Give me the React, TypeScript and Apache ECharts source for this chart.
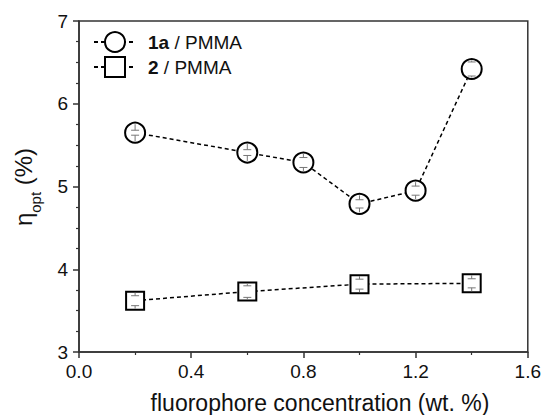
import React, { useEffect, useRef } from "react";
import * as echarts from "echarts";

const xValues1 = [0.2, 0.6, 0.8, 1.0, 1.2, 1.4];
const series1a = [5.65, 5.41, 5.29, 4.79, 4.95, 6.42];
const err1a = [0.03, 0.035, 0.06, 0.05, 0.055, 0.085];

const xValues2 = [0.2, 0.6, 1.0, 1.4];
const series2 = [3.62, 3.73, 3.82, 3.83];
const err2 = [0.06, 0.07, 0.06, 0.055];

const legendNames = ["1a / PMMA", "2 / PMMA"];
const xTitle = "fluorophore concentration (wt. %)";

const FONT = "'Liberation Sans', Arial, Helvetica, sans-serif";
const AXIS_COLOR = "#333";
const TEXT_COLOR = "#111";

function errRender(innerHalf: number) {
  return (params: any, api: any) => {
    const x = api.value(0);
    const y = api.value(1);
    const e = api.value(2);
    const c = api.coord([x, y]);
    const t = api.coord([x, y + e]);
    const b = api.coord([x, y - e]);
    const style = { stroke: "#777", lineWidth: 1 };
    const children: any[] = [
      { type: "line", shape: { x1: c[0] - 4, y1: t[1], x2: c[0] + 4, y2: t[1] }, style },
      { type: "line", shape: { x1: c[0] - 4, y1: b[1], x2: c[0] + 4, y2: b[1] }, style },
    ];
    if (t[1] > c[1] - innerHalf) {
      children.push({ type: "line", shape: { x1: c[0], y1: t[1], x2: c[0], y2: c[1] - innerHalf }, style });
    }
    if (b[1] < c[1] + innerHalf) {
      children.push({ type: "line", shape: { x1: c[0], y1: b[1], x2: c[0], y2: c[1] + innerHalf }, style });
    }
    return { type: "group", children };
  };
}

export default function App() {
  const ref = useRef<HTMLDivElement>(null);
  useEffect(() => {
    if (!ref.current) return;
    const chart = echarts.init(ref.current, undefined, { renderer: "svg" });
    const lineStyle = { color: "#000", width: 1.5, type: [4, 3] as any };
    chart.setOption({
      animation: false,
      backgroundColor: "#fff",
      grid: {
        left: 79,
        top: 21,
        right: 16,
        bottom: 63,
        show: true,
        borderColor: AXIS_COLOR,
        borderWidth: 1.5,
        backgroundColor: "transparent",
      },
      legend: {
        data: legendNames,
        orient: "vertical",
        left: 93,
        top: 31,
        padding: 0,
        itemWidth: 42,
        itemHeight: 25,
        itemGap: 3,
        selectedMode: false,
        formatter: (name: string) => {
          const parts = name.split(" / ");
          return "{b|" + parts[0] + "}{n| / " + parts[1] + "}";
        },
        textStyle: {
          fontFamily: FONT,
          fontSize: 19,
          color: TEXT_COLOR,
          rich: {
            b: { fontFamily: FONT, fontSize: 19, fontWeight: "bold", color: TEXT_COLOR, padding: [0, 0, 0, 7] },
            n: { fontFamily: FONT, fontSize: 19, color: TEXT_COLOR },
          },
        },
      },
      xAxis: {
        type: "value",
        min: 0,
        max: 1.6,
        interval: 0.4,
        axisLine: { show: true, lineStyle: { color: AXIS_COLOR, width: 1.5 } },
        axisTick: { show: true, length: 6, lineStyle: { color: AXIS_COLOR, width: 1.5 } },
        minorTick: { show: true, splitNumber: 2, length: 3, lineStyle: { color: AXIS_COLOR, width: 1.2 } },
        splitLine: { show: false },
        axisLabel: {
          margin: 10,
          fontFamily: FONT,
          fontSize: 19,
          color: TEXT_COLOR,
          formatter: (v: number) => v.toFixed(1),
        },
      },
      yAxis: {
        type: "value",
        min: 3,
        max: 7,
        interval: 1,
        axisLine: { show: true, lineStyle: { color: AXIS_COLOR, width: 1.5 } },
        axisTick: { show: true, length: 6, lineStyle: { color: AXIS_COLOR, width: 1.5 } },
        minorTick: { show: true, splitNumber: 4, length: 3, lineStyle: { color: AXIS_COLOR, width: 1.2 } },
        splitLine: { show: false },
        axisLabel: {
          margin: 11,
          fontFamily: FONT,
          fontSize: 19,
          color: TEXT_COLOR,
        },
      },
      graphic: [
        {
          type: "text",
          x: 320,
          y: 403,
          style: {
            text: xTitle,
            fontFamily: FONT,
            fontSize: 23,
            fill: TEXT_COLOR,
            align: "center",
            verticalAlign: "middle",
          },
        },
        {
          type: "text",
          x: 25,
          y: 187,
          rotation: Math.PI / 2,
          style: {
            text: "{a|η}{s|opt}{a| (%)}",
            align: "center",
            verticalAlign: "middle",
            fill: TEXT_COLOR,
            rich: {
              a: { fontFamily: FONT, fontSize: 24, lineHeight: 28, verticalAlign: "top", fill: TEXT_COLOR },
              s: { fontFamily: FONT, fontSize: 15, lineHeight: 15, verticalAlign: "top", padding: [17, 0, 0, 0], fill: TEXT_COLOR },
            },
          },
        },
      ],
      series: [
        {
          name: legendNames[0],
          type: "line",
          data: xValues1.map((x, i) => [x, series1a[i]]),
          symbol: "circle",
          symbolSize: 20,
          lineStyle,
          itemStyle: { color: "#fff", borderColor: "#000", borderWidth: 2 },
          z: 2,
        },
        {
          name: legendNames[1],
          type: "line",
          data: xValues2.map((x, i) => [x, series2[i]]),
          symbol: "rect",
          symbolSize: 18,
          lineStyle,
          itemStyle: { color: "#fff", borderColor: "#000", borderWidth: 2 },
          z: 2,
        },
        {
          name: "err1a",
          type: "custom",
          z: 3,
          silent: true,
          encode: { x: 0, y: 1 },
          data: xValues1.map((x, i) => [x, series1a[i], err1a[i]]),
          renderItem: errRender(8.5),
        },
        {
          name: "err2",
          type: "custom",
          z: 3,
          silent: true,
          encode: { x: 0, y: 1 },
          data: xValues2.map((x, i) => [x, series2[i], err2[i]]),
          renderItem: errRender(8),
        },
      ],
    });
    return () => chart.dispose();
  }, []);
  return <div ref={ref} style={{ position: "absolute", left: 0, top: 0, width: 544, height: 415 }} />;
}
